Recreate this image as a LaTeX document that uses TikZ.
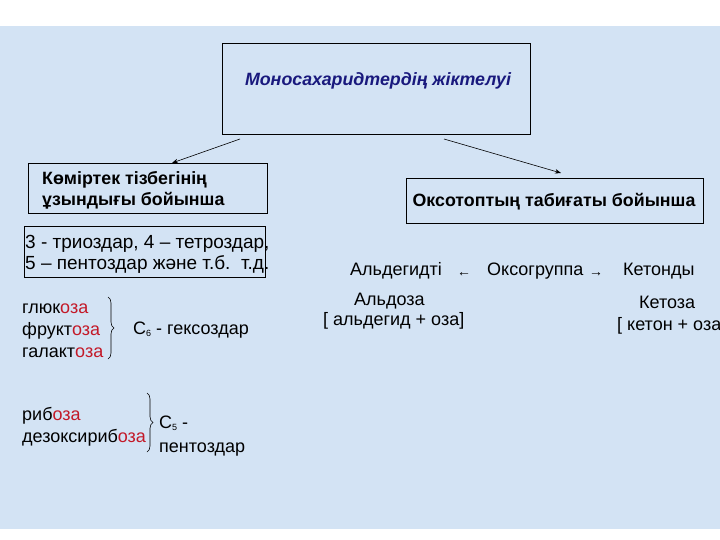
\documentclass[tikz,border=0pt]{standalone}
\usepackage{fontspec}
\setmainfont{Liberation Sans}
\usetikzlibrary{decorations.pathreplacing,arrows.meta}
\definecolor{bgblue}{RGB}{211,227,244}
\definecolor{ozared}{RGB}{195,25,40}
\definecolor{titleblue}{RGB}{25,25,125}
\newcommand{\oz}{\textcolor{ozared}{оза}}
\newcommand{\subsm}[1]{\raisebox{-2.5pt}{\fontsize{9}{9}\selectfont #1}}
\begin{document}
\begin{tikzpicture}[x=1pt,y=-1pt,
  txt/.style={font=\fontsize{18}{21}\selectfont, inner sep=0pt, text=black},
  btxt/.style={font=\fontsize{17.8}{21}\selectfont\bfseries, inner sep=0pt, text=black},
  boxst/.style={draw=black, line width=0.8pt, inner sep=0pt},
  conn/.style={line width=0.6pt, -{Stealth[length=6pt,width=4.5pt]}},
  brc/.style={line width=0.6pt, decorate, decoration={brace, amplitude=6pt}}]
\useasboundingbox (0,0) rectangle (720,540);
\fill[white] (0,0) rectangle (720,540);
\fill[bgblue] (0,26) rectangle (720,529);

% main title box
\node[boxst, minimum width=308pt, minimum height=91pt] (main) at (376,88.5) {};
\node[anchor=base, inner sep=0pt, text=titleblue, font=\fontsize{17.8}{21}\selectfont\bfseries\itshape] (title) at (378,86) {Моносахаридтердің жіктелуі};

% left box
\node[boxst, minimum width=239pt, minimum height=50pt] (lbox) at (147.5,188) {};
\node[btxt, anchor=base west] (l1) at (42,185) {Көміртек тізбегінің};
\node[btxt, anchor=base west] (l2) at (42,206) {ұзындығы бойынша};

% lower left box
\node[boxst, minimum width=241pt, minimum height=51pt] (llbox) at (144.5,251.5) {};
\node[txt, font=\fontsize{19}{21}\selectfont, anchor=base west] (ll1) at (25,248) {3 - триоздар, 4 – тетроздар,};
\node[txt, font=\fontsize{19}{21}\selectfont, anchor=base west] (ll2) at (25,269) {5 – пентоздар және т.б.\ \ т.д.};

% right box
\node[boxst, minimum width=297pt, minimum height=45pt] (rbox) at (554.5,200.5) {};
\node[btxt, anchor=base] (r1) at (554,207) {Оксотоптың табиғаты бойынша};

% arrows
\coordinate (s1) at (240,139);
\coordinate (e1) at (172,163);
\coordinate (s2) at (444,139);
\coordinate (e2) at (561,173);
\draw[conn] (s1) -- (e1);
\draw[conn] (s2) -- (e2);

% oxo group row
\node[txt, anchor=base west] (ald) at (350,275) {Альдегидті};
\node[anchor=base, inner sep=0pt, font=\fontsize{14}{14}\selectfont] (la) at (464,276) {←};
\node[txt, anchor=base west] (oxo) at (487,275) {Оксогруппа};
\node[anchor=base, inner sep=0pt, font=\fontsize{14}{14}\selectfont] (ra) at (596,276) {→};
\node[txt, anchor=base west] (ket) at (623,275) {Кетонды};
\node[txt, anchor=base west] (aldz) at (354,305) {Альдоза};
\node[txt, anchor=base west] (aldf) at (323,325) {[ альдегид + оза]};
\node[txt, anchor=base west] (ketz) at (639,308) {Кетоза};
\node[txt, anchor=base west] (ketf) at (617,330) {[ кетон + оза};

% hexoses
\node[txt, anchor=base west] (glu) at (22,313) {глюк\oz};
\node[txt, anchor=base west] (fru) at (22,335) {фрукт\oz};
\node[txt, anchor=base west] (gal) at (22,357) {галакт\oz};
\coordinate (b1t) at (108,297);
\coordinate (b1b) at (108,359);
\draw[brc] (b1t) -- (b1b);
\node[txt, anchor=base west] (hex) at (133,334) {C\subsm{6} - гексоздар};

% pentoses
\node[txt, anchor=base west] (rib) at (22,420) {риб\oz};
\node[txt, anchor=base west] (dez) at (22,442) {дезоксириб\oz};
\coordinate (b2t) at (147,393);
\coordinate (b2b) at (147,452);
\draw[brc] (b2t) -- (b2b);
\node[txt, anchor=base west] (c5) at (159,428) {C\subsm{5} -};
\node[txt, anchor=base west] (pent) at (159,452) {пентоздар};
\end{tikzpicture}
\end{document}
